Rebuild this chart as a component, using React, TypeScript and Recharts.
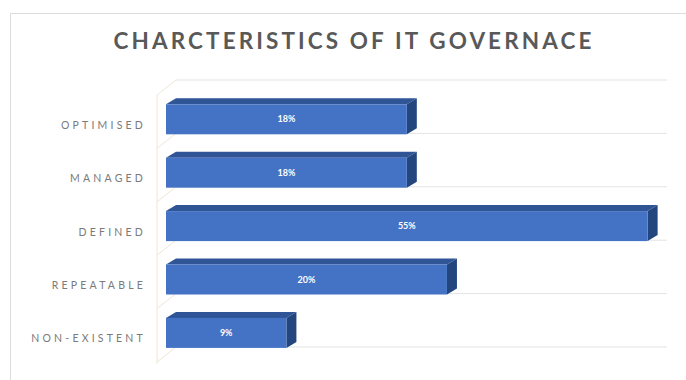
import React from "react";
import { BarChart, Bar, XAxis, YAxis, CartesianGrid } from "recharts";

const categories = ["OPTIMISED", "MANAGED", "DEFINED", "REPEATABLE", "NON-EXISTENT"];
const barLengths = [18, 18, 36, 21, 9];
const valueLabels = ["18%", "18%", "55%", "20%", "9%"];
const axisMax = 36.7;
const title = "CHARCTERISTICS OF IT GOVERNACE";

const data = categories.map((name, i) => ({ name, value: barLengths[i], label: valueLabels[i] }));

const DX = 10;
const DY = 6;
const SHIFT = 6.3;
const FONT = "Lato, 'Open Sans', sans-serif";

const Bar3D = (props: any) => {
  const { x, y, width, height, payload } = props;
  const bx = x;
  const by = y + SHIFT;
  const w = width;
  const h = height;
  const fx = bx - DX;
  const fy = by + DY;
  return (
    <g>
      <polygon
        points={`${fx},${fy} ${bx},${by} ${bx + w},${by} ${fx + w},${fy}`}
        fill="#2f5597"
      />
      <polygon
        points={`${fx + w},${fy} ${bx + w},${by} ${bx + w},${by + h} ${fx + w},${fy + h}`}
        fill="#24467f"
      />
      <rect x={fx} y={fy} width={w} height={h} fill="#4472c4" />
      <text
        x={fx + w / 2}
        y={fy + h / 2 + 3}
        textAnchor="middle"
        fill="#ffffff"
        fontSize={9}
        fontWeight={700}
        fontFamily={FONT}
      >
        {payload.label}
      </text>
    </g>
  );
};

const GridLine = (props: any) => {
  const { x1, y1, x2, y2, index, y, height } = props;
  return (
    <g>
      <line x1={x1} y1={y1} x2={x2} y2={y2} stroke="#e3e3e3" strokeWidth={1} />
      <line x1={x1} y1={y1} x2={x1 - 19} y2={y1 + 15} stroke="#efe6d6" strokeWidth={1} />
      {index === 0 ? (
        <line x1={x1 - 19} y1={y + 15} x2={x1 - 19} y2={y + height + 17} stroke="#efe6d6" strokeWidth={1} />
      ) : null}
    </g>
  );
};

const bandBoundaries = ({ offset }: any) => {
  const n = categories.length;
  const out: number[] = [];
  for (let i = 0; i <= n; i++) out.push(offset.top + (offset.height * i) / n);
  return out;
};

const CatTick = (props: any) => {
  const { x, y, payload } = props;
  return (
    <text
      x={x}
      y={y + 22}
      textAnchor="end"
      fill="#7a7a7a"
      fontSize={10.5}
      letterSpacing={3.2}
      fontFamily={FONT}
    >
      {payload.value}
    </text>
  );
};

export default function App() {
  return (
    <div style={{ position: "fixed", left: 0, top: 0, width: 686, height: 380, background: "#fff", overflow: "hidden" }}>
      <div
        style={{
          position: "absolute",
          left: 10,
          top: 13,
          width: 690,
          height: 380,
          borderTop: "1px solid #dcdcdc",
          borderLeft: "1px solid #dcdcdc",
        }}
      />
      <div
        style={{
          position: "absolute",
          left: 0,
          top: 27,
          width: 708,
          textAlign: "center",
          fontFamily: FONT,
          fontWeight: 700,
          fontSize: 22.5,
          letterSpacing: 3.1,
          color: "#595959",
          whiteSpace: "pre",
        }}
      >
        {title}
      </div>
      <div style={{ position: "absolute", left: 0, top: 0 }}>
        <BarChart
          width={686}
          height={380}
          layout="vertical"
          data={data}
          margin={{ top: 80, right: 19, bottom: 33, left: 0 }}
          barCategoryGap={0}
        >
          <CartesianGrid
            horizontal={<GridLine />}
            vertical={false}
            horizontalCoordinatesGenerator={bandBoundaries}
          />
          <XAxis type="number" domain={[0, axisMax]} hide />
          <YAxis
            type="category"
            dataKey="name"
            width={176}
            axisLine={false}
            tickLine={false}
            tickSize={0}
            tickMargin={30}
            tick={<CatTick />}
            interval={0}
          />
          <Bar dataKey="value" barSize={30} shape={<Bar3D />} isAnimationActive={false} />
        </BarChart>
      </div>
    </div>
  );
}
